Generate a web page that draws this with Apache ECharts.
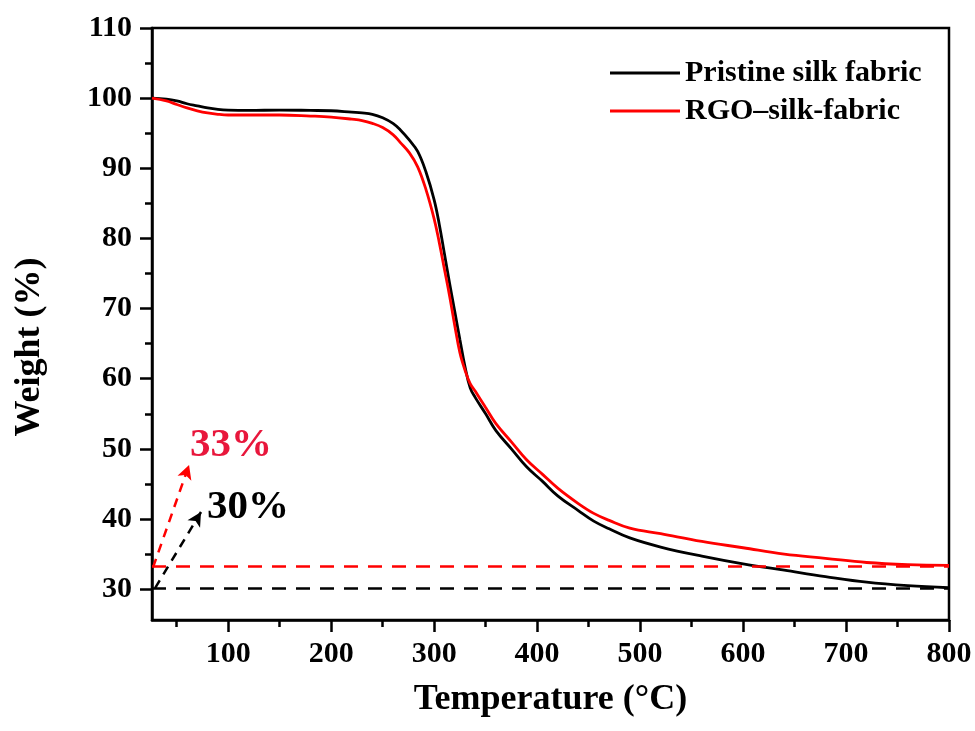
<!DOCTYPE html>
<html>
<head>
<meta charset="utf-8">
<script src="https://cdn.jsdelivr.net/npm/echarts@6/dist/echarts.min.js"></script>
<style>
  html, body { margin: 0; padding: 0; background: #fff; }
  #chart { width: 975px; height: 731px; }
</style>
</head>
<body>
<div id="chart"></div>
<script>
// temperature points (°C)
const temps = [26, 40, 50, 60, 70, 80, 90, 100, 120, 150, 180, 200, 220, 230, 240, 250, 260, 267, 276, 284, 292, 300, 305, 310, 315, 320, 325, 330, 335, 340, 350, 360, 375, 390, 405, 420, 440, 455, 470, 490, 520, 560, 600, 640, 680, 720, 760, 800]
// weight (%)
const pristine = [100.0, 99.85, 99.6, 99.2, 98.9, 98.6, 98.4, 98.3, 98.25, 98.3, 98.25, 98.2, 98.0, 97.9, 97.7, 97.2, 96.4, 95.5, 94.0, 92.4, 89.5, 85.5, 82.0, 77.8, 73.6, 69.6, 65.6, 61.7, 58.7, 57.3, 55.0, 52.6, 50.0, 47.4, 45.4, 43.3, 41.2, 39.7, 38.6, 37.3, 36.0, 34.7, 33.6, 32.7, 31.8, 31.0, 30.5, 30.2]
const rgo = [100.0, 99.6, 99.1, 98.6, 98.2, 97.9, 97.7, 97.6, 97.6, 97.6, 97.45, 97.3, 97.0, 96.8, 96.4, 95.8, 94.8, 93.7, 92.2, 90.2, 87.0, 82.8, 79.4, 75.6, 71.8, 67.6, 63.7, 61.2, 59.3, 58.2, 55.9, 53.6, 51.0, 48.4, 46.4, 44.4, 42.2, 40.8, 39.8, 38.7, 37.9, 36.8, 35.9, 35.0, 34.4, 33.8, 33.5, 33.4]

const xMajor = [100, 200, 300, 400, 500, 600, 700, 800]
const xMinor = [50, 150, 250, 350, 450, 550, 650, 750]
const yMajor = [30, 40, 50, 60, 70, 80, 90, 100, 110]
const yMinor = [35, 45, 55, 65, 75, 85, 95, 105]

// residue levels and arrows for the annotations
const residueRGO = 33.2
const residuePristine = 30.1
const arrowRGO = [[27, 33.1], [62, 47.7]]
const arrowPristine = [[29, 30.15], [73.6, 41.0]]

const font = "'Liberation Serif', 'Times New Roman', serif"
const chart = echarts.init(document.getElementById('chart'))

const toPairs = (ys) => temps.map((t, i) => [t, ys[i]])

const option = {
  animation: false,
  grid: {
    left: 152, right: 26, top: 28, bottom: 111,
    show: true, borderColor: '#000', borderWidth: 2.5
  },
  legend: {
    orient: 'vertical',
    left: 605, top: 53,
    itemWidth: 70, itemHeight: 3, itemGap: 8,
    icon: 'rect',
    textStyle: { fontFamily: font, fontWeight: 'bold', fontSize: 30, color: '#000', padding: [0, 0, 0, 0] },
    data: ['Pristine silk fabric', 'RGO\u2013silk-fabric']
  },
  xAxis: [{
    type: 'value', min: 26, max: 800, position: 'bottom',
    name: 'Temperature (\u00b0C)', nameLocation: 'middle', nameGap: 62,
    nameTextStyle: { fontFamily: font, fontWeight: 'bold', fontSize: 36, color: '#000' },
    axisLine: { lineStyle: { color: '#000', width: 2.5 } },
    axisTick: { customValues: xMajor, length: 12, lineStyle: { color: '#000', width: 2.5 } },
    axisLabel: { customValues: xMajor, margin: 19, fontFamily: font, fontWeight: 'bold', fontSize: 30, color: '#000' },
    splitLine: { show: false }
  }, {
    type: 'value', min: 26, max: 800, position: 'bottom',
    axisLine: { show: false },
    axisTick: { customValues: xMinor, length: 7, lineStyle: { color: '#000', width: 2.5 } },
    axisLabel: { show: false },
    splitLine: { show: false }
  }],
  yAxis: [{
    type: 'value', min: 25.6, max: 110, position: 'left',
    axisLine: { lineStyle: { color: '#000', width: 2.5 } },
    axisTick: { customValues: yMajor, length: 12, lineStyle: { color: '#000', width: 2.5 } },
    axisLabel: { customValues: yMajor, margin: 20, fontFamily: font, fontWeight: 'bold', fontSize: 30, color: '#000' },
    splitLine: { show: false }
  }, {
    type: 'value', min: 25.6, max: 110, position: 'left',
    axisLine: { show: false },
    axisTick: { customValues: yMinor, length: 7, lineStyle: { color: '#000', width: 2.5 } },
    axisLabel: { show: false },
    splitLine: { show: false }
  }],
  graphic: [{
    type: 'text', x: 30, y: 347, rotation: Math.PI / 2,
    style: { text: 'Weight (%)', fontFamily: font, fontWeight: 'bold', fontSize: 36, fill: '#000', align: 'center', verticalAlign: 'middle' }
  }, {
    type: 'text', x: 190, y: 445,
    style: { text: '33%', fontFamily: font, fontWeight: 'bold', fontSize: 41, fill: '#e8173c', verticalAlign: 'middle' }
  }, {
    type: 'text', x: 207, y: 507,
    style: { text: '30%', fontFamily: font, fontWeight: 'bold', fontSize: 41, fill: '#000', verticalAlign: 'middle' }
  }],
  series: [{
    name: 'Pristine silk fabric', type: 'line',
    data: toPairs(pristine),
    symbol: 'none', smooth: 0.4,
    lineStyle: { color: '#000', width: 2.8 },
    itemStyle: { color: '#000' },
    markLine: {
      silent: true, symbol: 'none', label: { show: false },
      data: [
        { yAxis: residuePristine, lineStyle: { color: '#000', type: [14, 10], width: 2.5 } },
        [
          { coord: arrowPristine[0], symbol: 'none', lineStyle: { color: '#000', type: [9, 7], width: 2.5 } },
          { coord: arrowPristine[1], symbol: 'arrow', symbolSize: [11, 14] }
        ]
      ]
    }
  }, {
    name: 'RGO\u2013silk-fabric', type: 'line',
    data: toPairs(rgo),
    symbol: 'none', smooth: 0.4,
    lineStyle: { color: '#ff0000', width: 2.8 },
    itemStyle: { color: '#ff0000' },
    markLine: {
      silent: true, symbol: 'none', label: { show: false },
      data: [
        { yAxis: residueRGO, lineStyle: { color: '#ff0000', type: [14, 10], width: 2.5 } },
        [
          { coord: arrowRGO[0], symbol: 'none', lineStyle: { color: '#ff0000', type: [9, 7], width: 2.5 } },
          { coord: arrowRGO[1], symbol: 'arrow', symbolSize: [11, 14] }
        ]
      ]
    }
  }]
}

chart.setOption(option)
</script>
</body>
</html>
